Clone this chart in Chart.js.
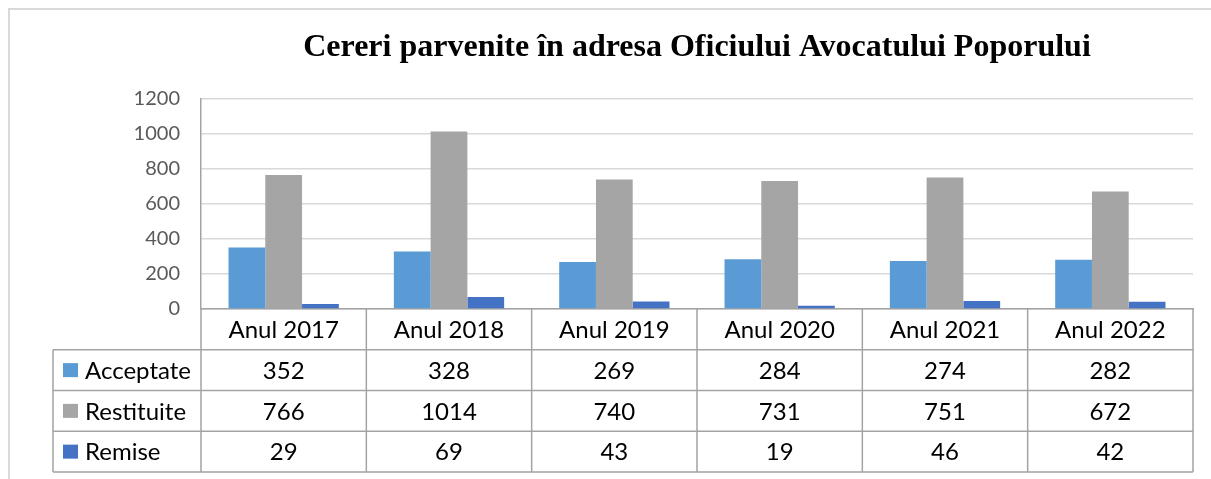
<!DOCTYPE html>
<html>
<head>
<meta charset="utf-8">
<script src="https://cdn.jsdelivr.net/npm/chart.js@4"></script>
<style>
  body { margin: 0; background: #fff; }
</style>
</head>
<body>
<canvas id="cereriChart" width="1211" height="479"></canvas>
<script>
// Data
const categories = ['Anul 2017', 'Anul 2018', 'Anul 2019', 'Anul 2020', 'Anul 2021', 'Anul 2022'];
const acceptate = [352, 328, 269, 284, 274, 282];
const restituite = [766, 1014, 740, 731, 751, 672];
const remise = [29, 69, 43, 19, 46, 42];
const seriesNames = ['Acceptate', 'Restituite', 'Remise'];
const seriesColors = ['#5B9BD5', '#A5A5A5', '#4472C4'];
const yMax = 1200;
const yStep = 200;

const lineGray = '#A3A3A3';

// light frame around the whole chart
const framePlugin = {
    id: 'frame',
    beforeDraw(chart) {
        const c = chart.ctx;
        c.save();
        c.strokeStyle = '#D9D9D9';
        c.lineWidth = 2;
        c.beginPath();
        c.moveTo(9, chart.height + 2);
        c.lineTo(9, 9);
        c.lineTo(chart.width + 2, 9);
        c.stroke();
        c.restore();
    }
};

// data table under the plot, aligned with the category scale
const dataTablePlugin = {
    id: 'dataTable',
    afterDraw(chart) {
        const c = chart.ctx;
        const x = chart.scales.x;
        const area = chart.chartArea;
        const n = chart.data.labels.length;
        const cellW = (area.right - area.left) / n;
        const rowH = 40.75;
        const top = area.bottom;
        const rows = chart.data.datasets.length;
        const bottom = top + rowH * (rows + 1);
        const legendLeft = 53;

        c.save();
        c.strokeStyle = lineGray;
        c.lineWidth = 1.5;
        c.beginPath();
        // vertical lines
        for (let i = 0; i <= n; i++) {
            const xx = area.left + i * cellW;
            c.moveTo(xx, top);
            c.lineTo(xx, bottom);
        }
        c.moveTo(legendLeft, top + rowH);
        c.lineTo(legendLeft, bottom);
        // horizontal lines
        for (let r = 1; r <= rows + 1; r++) {
            const yy = top + r * rowH;
            c.moveTo(legendLeft, yy);
            c.lineTo(area.right, yy);
        }
        c.stroke();

        c.font = '24px Lato';
        c.fillStyle = '#000';
        c.textBaseline = 'middle';
        c.textAlign = 'center';
        chart.data.labels.forEach((lab, i) => {
            c.fillText(lab, x.getPixelForValue(i), top + rowH / 2 + 1);
        });

        chart.data.datasets.forEach((ds, r) => {
            const cy = top + (r + 1.5) * rowH;
            c.fillStyle = ds.backgroundColor;
            c.fillRect(63, cy - 7, 15, 14);
            c.fillStyle = '#000';
            c.textAlign = 'left';
            c.fillText(ds.label, 85, cy + 1);
            c.textAlign = 'center';
            ds.data.forEach((v, i) => {
                c.fillText(String(v), x.getPixelForValue(i), cy + 1);
            });
        });
        c.restore();
    }
};

const ctx = document.getElementById('cereriChart').getContext('2d');

const data = {
    labels: categories,
    datasets: [
        { label: seriesNames[0], data: acceptate, backgroundColor: seriesColors[0] },
        { label: seriesNames[1], data: restituite, backgroundColor: seriesColors[1] },
        { label: seriesNames[2], data: remise, backgroundColor: seriesColors[2] }
    ]
};

const config = {
    type: 'bar',
    data: data,
    options: {
        responsive: false,
        animation: false,
        layout: {
            padding: { top: 29, right: 18, bottom: 0, left: 0 }
        },
        datasets: {
            bar: {
                categoryPercentage: 0.667,
                barPercentage: 1.0,
                borderWidth: 0
            }
        },
        plugins: {
            legend: { display: false },
            tooltip: { enabled: false },
            title: {
                display: true,
                fullSize: false,
                text: 'Cereri parvenite în adresa Oficiului Avocatului Poporului',
                color: '#000',
                font: { family: 'Liberation Serif', size: 32, weight: 'bold', lineHeight: 1.2 },
                padding: { top: 0, bottom: 31.6 }
            }
        },
        scales: {
            x: {
                grid: { display: false, drawTicks: false },
                border: { display: true, color: lineGray, width: 1.5 },
                ticks: { display: false },
                afterFit(axis) { axis.height = 170; }
            },
            y: {
                min: 0,
                max: yMax,
                ticks: {
                    stepSize: yStep,
                    padding: 21,
                    color: '#595959',
                    font: { family: 'Lato', size: 20 },
                    callback: (value) => String(value)
                },
                grid: { color: '#D9D9D9', lineWidth: 1.5, drawTicks: false },
                border: { display: true, color: lineGray, width: 1.5 },
                afterFit(axis) { axis.width = 201; }
            }
        }
    },
    plugins: [framePlugin, dataTablePlugin]
};

const cereriChart = new Chart(ctx, config);
</script>
</body>
</html>
